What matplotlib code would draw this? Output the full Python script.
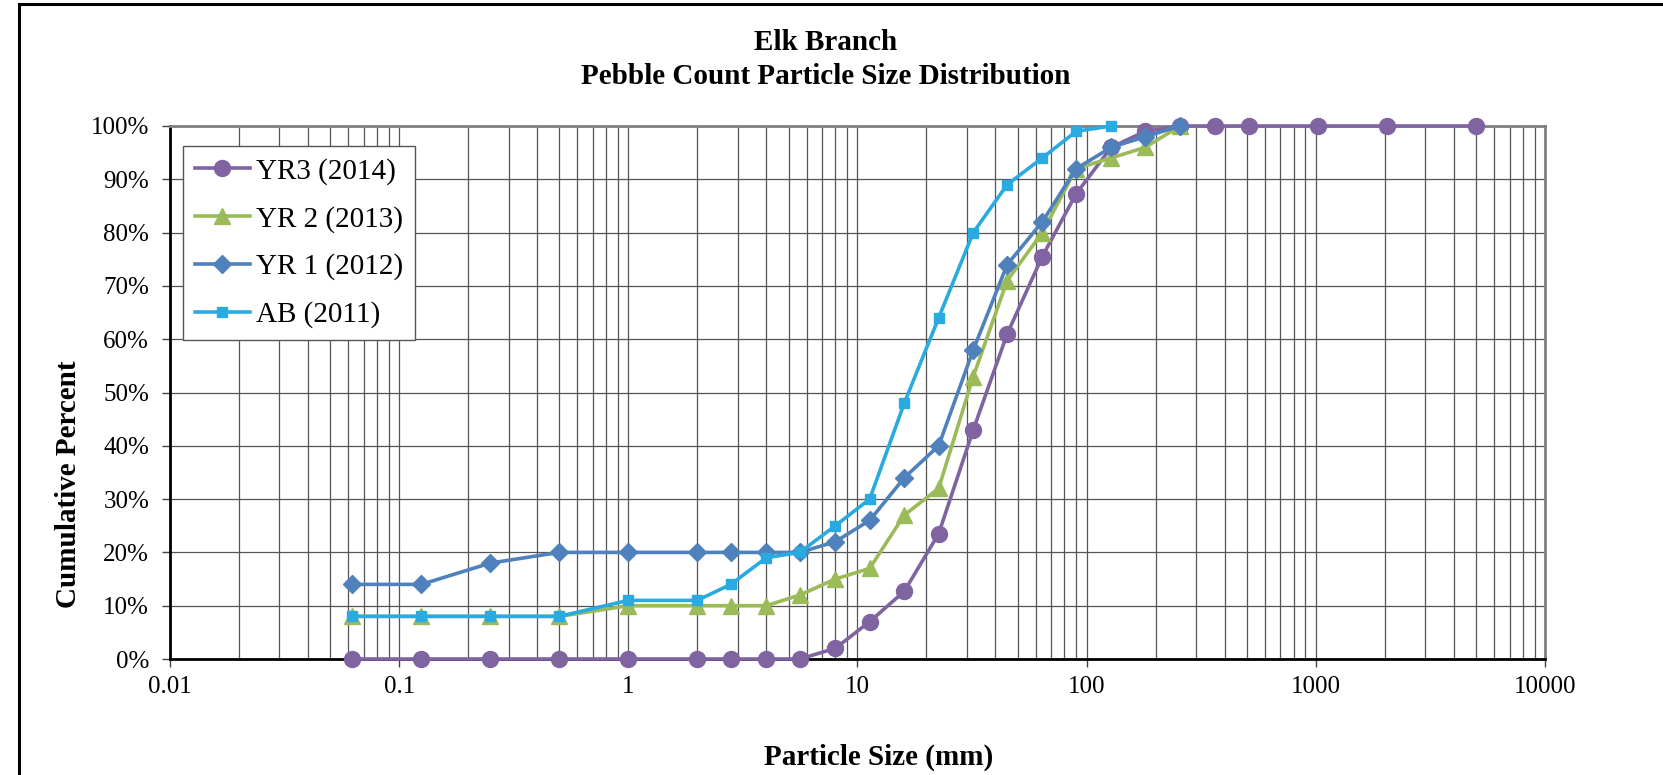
import matplotlib
matplotlib.use('Agg')
import matplotlib.pyplot as plt
from matplotlib.patches import Rectangle
from matplotlib.ticker import FuncFormatter, LogLocator, NullFormatter

plt.rcParams['font.family'] = ['Liberation Serif', 'DejaVu Serif']

# sieve sizes (mm)
sizes_yr3 = [0.062, 0.125, 0.25, 0.5, 1, 2, 2.8, 4, 5.6, 8, 11.3, 16, 22.6, 32, 45, 64,
             90, 128, 180, 256, 362, 512, 1024, 2048, 5000]
sizes_std = [0.062, 0.125, 0.25, 0.5, 1, 2, 2.8, 4, 5.6, 8, 11.3, 16, 22.6, 32, 45, 64,
             90, 128, 180, 256]
sizes_ab = sizes_std[:18]

# cumulative percent
yr3_2014 = [0, 0, 0, 0, 0, 0, 0, 0, 0, 2, 7, 12.7, 23.5, 43, 61, 75.5, 87.3, 96, 99, 100,
            100, 100, 100, 100, 100]
yr2_2013 = [8, 8, 8, 8, 10, 10, 10, 10, 12, 15, 17, 27, 32, 53, 71, 80, 92, 94, 96, 100]
yr1_2012 = [14, 14, 18, 20, 20, 20, 20, 20, 20, 22, 26, 34, 40, 58, 74, 82, 92, 96, 98, 100]
ab_2011 = [8, 8, 8, 8, 11, 11, 14, 19, 20, 25, 30, 48, 64, 80, 89, 94, 99, 100]

x_ticks = [0.01, 0.1, 1, 10, 100, 1000, 10000]

series = [
    ('YR3 (2014)', sizes_yr3, yr3_2014, '#8064A2', 'o', 11.5),
    ('YR 2 (2013)', sizes_std, yr2_2013, '#9BBB59', '^', 11.5),
    ('YR 1 (2012)', sizes_std, yr1_2012, '#4F81BD', 'D', 9.5),
    ('AB (2011)', sizes_ab, ab_2011, '#29ABE2', 's', 7.5),
]

fig = plt.figure(figsize=(16.63, 7.75), dpi=100)
ax = fig.add_axes([170 / 1663, 1 - 659 / 775, (1545 - 170) / 1663, (659 - 126) / 775])

for label, x, y, col, mk, ms in series:
    ax.plot(x, y, color=col, lw=2.6, marker=mk, markersize=ms, markeredgecolor=col,
            label=label, clip_on=False, zorder=3)

ax.set_xscale('log')
ax.set_xlim(0.01, 10000)
ax.set_ylim(0, 100)
ax.set_yticks(range(0, 101, 10))
ax.yaxis.set_major_formatter(FuncFormatter(lambda v, p: '%d%%' % v))
ax.set_xticks(x_ticks)
ax.set_xticklabels(['%g' % v for v in x_ticks])
ax.xaxis.set_minor_locator(LogLocator(base=10, subs=range(2, 10), numticks=100))
ax.xaxis.set_minor_formatter(NullFormatter())

ax.grid(True, which='both', axis='x', color='#555555', lw=0.9, zorder=0)
ax.grid(True, which='major', axis='y', color='#555555', lw=0.9, zorder=0)
ax.set_axisbelow(True)

ax.tick_params(axis='both', which='major', labelsize=18, length=6, width=1, color='#444444',
               direction='out')
ax.tick_params(axis='y', pad=9)
ax.tick_params(axis='x', pad=6)
ax.tick_params(axis='x', which='minor', length=0)

for s in ['left', 'bottom']:
    ax.spines[s].set_color('black')
    ax.spines[s].set_linewidth(2)
for s in ['top', 'right']:
    ax.spines[s].set_color('#808080')
    ax.spines[s].set_linewidth(2)

leg = ax.legend(loc='upper left', bbox_to_anchor=(183 / 1663, 1 - 146 / 775),
                bbox_transform=fig.transFigure, fontsize=21, frameon=True, fancybox=False,
                edgecolor='#555555', framealpha=1, borderaxespad=0, borderpad=0.4,
                labelspacing=0.72, handlelength=1.9, handletextpad=0.2)
leg.get_frame().set_linewidth(1)

fig.text(826 / 1663, 1 - 42 / 775, 'Elk Branch', ha='center', va='center',
         fontsize=21, fontweight='bold')
fig.text(826 / 1663, 1 - 77 / 775, 'Pebble Count Particle Size Distribution', ha='center',
         va='center', fontsize=21, fontweight='bold')
fig.text(69 / 1663, 1 - 484 / 775, 'Cumulative Percent', rotation=90, ha='center',
         va='center', fontsize=21, fontweight='bold')
fig.text(879 / 1663, 1 - 757 / 775, 'Particle Size (mm)', ha='center', va='center',
         fontsize=21, fontweight='bold')

# chart border (only top and left edges fall inside the picture)
fig.patches.append(Rectangle((19 / 1663, -0.2), 1.2, 1.2 - 4 / 775, transform=fig.transFigure,
                             fill=False, edgecolor='black', lw=2.2))

fig.savefig('out.png', dpi=100)
